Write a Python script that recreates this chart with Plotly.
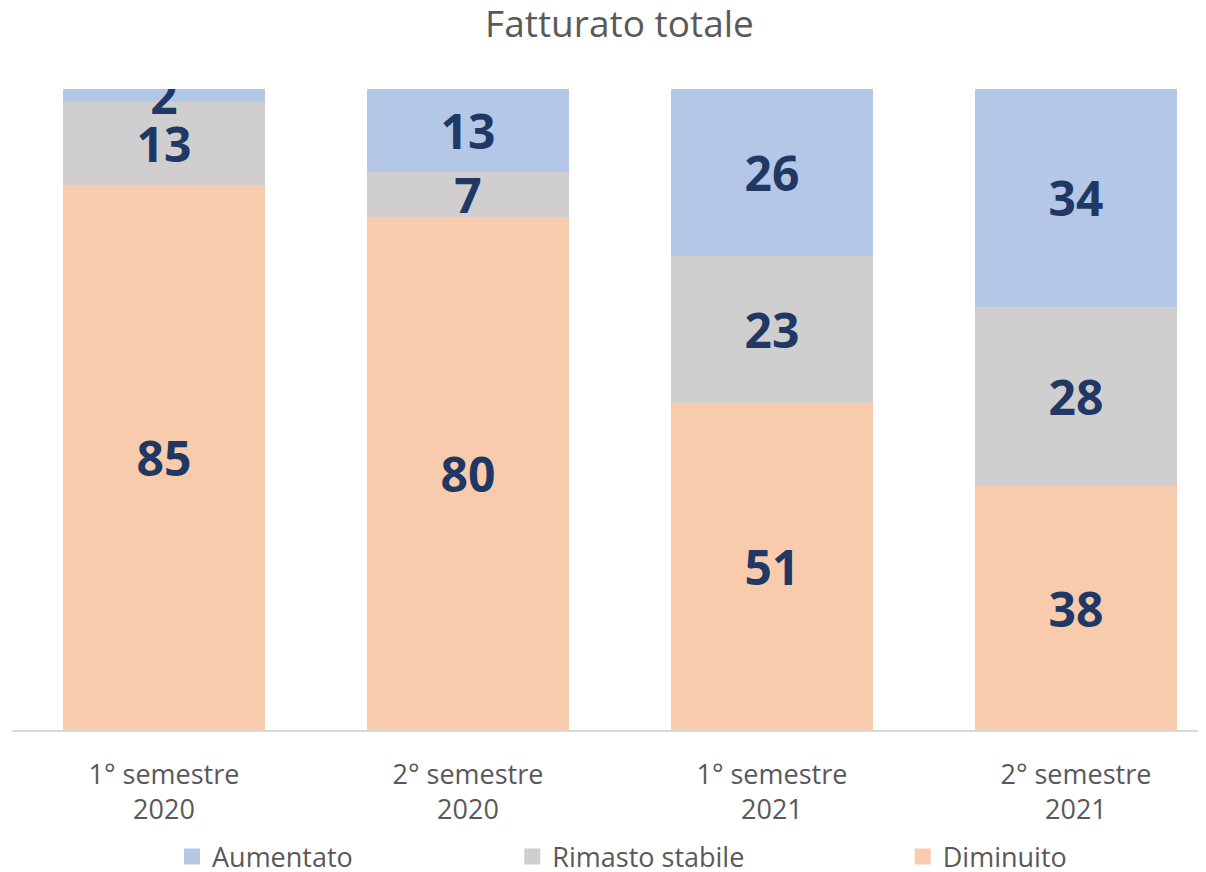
import plotly.graph_objects as go

# categorie (semestri) e valori percentuali delle risposte
semestri = ["1° semestre<br>2020", "2° semestre<br>2020", "1° semestre<br>2021", "2° semestre<br>2021"]
diminuito = [85, 80, 51, 38]
rimasto_stabile = [13, 7, 23, 28]
aumentato = [2, 13, 26, 34]

label_font = dict(family="Open Sans", size=48, color="#1f3864", weight="bold")

fig = go.Figure()

# ordine di impilamento: dal basso verso l'alto
series = [
    ("Diminuito", diminuito, "#f8cbad", "legend3"),
    ("Rimasto stabile", rimasto_stabile, "#d0cece", "legend2"),
    ("Aumentato", aumentato, "#b4c7e7", "legend"),
]
for name, vals, color, leg in series:
    fig.add_trace(go.Bar(
        x=semestri,
        y=vals,
        name=name,
        marker=dict(color=color, line=dict(width=0)),
        width=0.665,
        text=vals,
        textposition="inside",
        insidetextanchor="middle",
        textangle=0,
        textfont=label_font,
        showlegend=False,
    ))
    # voce di legenda con quadrato più grande
    fig.add_trace(go.Scatter(
        x=[None],
        y=[None],
        mode="markers",
        name=name,
        marker=dict(symbol="square", size=21, color=color),
        legend=leg,
        hoverinfo="skip",
    ))

# legende posizionate rispetto al contenitore, così non spingono i margini
legend_common = dict(
    orientation="h",
    yref="container",
    yanchor="middle",
    y=1 - 849 / 864,
    xanchor="left",
    itemsizing="trace",
    font=dict(family="Open Sans", size=27, color="#595959"),
    bgcolor="rgba(0,0,0,0)",
)

# la pagina html ha 8px di margine: la figura è ridotta di conseguenza
fig.update_layout(
    width=1198,
    height=864,
    barmode="stack",
    plot_bgcolor="white",
    paper_bgcolor="white",
    margin=dict(l=4, r=0, t=81, b=142),
    title=dict(
        text="Fatturato totale",
        x=0.5104, xanchor="center",
        y=1 - 16 / 864, yanchor="middle",
        font=dict(family="Open Sans", size=37, color="#595959"),
    ),
    xaxis=dict(
        type="category",
        range=[-0.5, 3.428],
        showline=True,
        linecolor="#d9d9d9",
        linewidth=1.5,
        showgrid=False,
        ticks="",
        ticklabelstandoff=20,
        automargin=False,
        tickfont=dict(family="Open Sans", size=27, color="#595959"),
    ),
    yaxis=dict(
        range=[0, 100],
        visible=False,
    ),
    uniformtext=dict(minsize=48, mode="show"),
    legend=dict(legend_common, x=0.134),
    legend2=dict(legend_common, x=0.419),
    legend3=dict(legend_common, x=0.746),
    showlegend=True,
)

fig.write_html("out.html")
